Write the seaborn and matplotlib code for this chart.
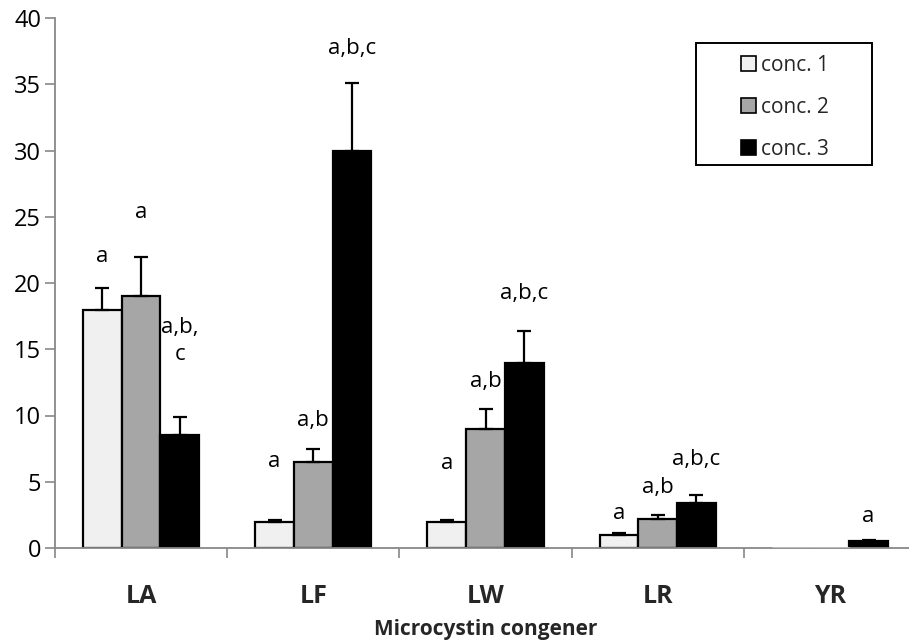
import numpy as np
import pandas as pd
import matplotlib
matplotlib.use("Agg")
import matplotlib.pyplot as plt
from matplotlib.patches import Rectangle
import seaborn as sns

# ---- data ----
congeners = ["LA", "LF", "LW", "LR", "YR"]
series = ["conc. 1", "conc. 2", "conc. 3"]
conc1 = [18.0, 2.0, 2.0, 1.0, 0.0]
conc2 = [19.0, 6.5, 9.0, 2.2, 0.0]
conc3 = [8.5, 30.0, 14.0, 3.4, 0.5]
err1 = [1.6, 0.15, 0.15, 0.1, 0.0]
err2 = [3.0, 1.0, 1.5, 0.3, 0.0]
err3 = [1.4, 5.1, 2.4, 0.6, 0.1]
labels1 = ["a", "a", "a", "a", ""]
labels2 = ["a", "a,b", "a,b", "a,b", ""]
labels3 = ["a,b,\nc", "a,b,c", "a,b,c", "a,b,c", "a"]
yticks = [0, 5, 10, 15, 20, 25, 30, 35, 40]
colors = ["#f0f0f0", "#a6a6a6", "#000000"]

values = [conc1, conc2, conc3]
errors = [err1, err2, err3]
labels = [labels1, labels2, labels3]

df = pd.DataFrame({
    "congener": np.repeat([congeners], 3, axis=0).ravel(),
    "series": np.repeat(series, len(congeners)),
    "value": np.concatenate(values),
})

sns.set_theme(style="white")
plt.rcParams["font.family"] = ["Open Sans", "DejaVu Sans"]

W, H = 909, 642
fig = plt.figure(figsize=(W / 100, H / 100), dpi=100)
ax = fig.add_axes([55 / W, 94 / H, 861 / W, 530 / H])

sns.barplot(data=df, x="congener", y="value", hue="series", order=congeners,
            hue_order=series, palette=colors, width=0.675, gap=0,
            edgecolor="black", linewidth=1.6, ax=ax, errorbar=None,
            saturation=1)

bar_containers = list(ax.containers)

for si, cont in enumerate(bar_containers):
    for ci, patch in enumerate(cont.patches):
        xc = patch.get_x() + patch.get_width() / 2
        h = values[si][ci]
        if h == 0:
            patch.set_edgecolor("#c0c0c0")
            patch.set_linewidth(2.0)
            patch.set_zorder(3)
        e = errors[si][ci]
        if e > 0:
            ax.errorbar([xc], [h], yerr=[[0], [e]], fmt="none", ecolor="black",
                        elinewidth=1.6, capsize=5, capthick=1.6, zorder=3)

# annotation text positions (y centre, data units)
ann_y = [
    [22.0, 6.5, 6.4, 2.6, 0],
    [25.3, 9.6, 12.6, 4.6, 0],
    [15.6, 37.7, 19.2, 6.7, 2.4],
]
for si, cont in enumerate(bar_containers):
    for ci, patch in enumerate(cont.patches):
        t = labels[si][ci]
        if not t:
            continue
        xc = patch.get_x() + patch.get_width() / 2
        ax.text(xc, ann_y[si][ci], t, ha="center", va="center", fontsize=16,
                color="black", linespacing=1.35)

ax.set_ylim(0, 40)
ax.set_xlim(-0.5, 4.5)
ax.set_yticks(yticks)
ax.set_yticklabels([str(v) for v in yticks], fontsize=17)
ax.set_xticks(range(len(congeners)))
ax.set_xticklabels(congeners, fontsize=18, fontweight="bold")
ax.set_xticks(np.arange(-0.5, 4.6, 1.0), minor=True)
ax.tick_params(axis="x", which="major", bottom=True, length=0, pad=26)
ax.tick_params(axis="x", which="minor", bottom=True, length=7, width=1.2, color="#888888", direction="out")
ax.tick_params(axis="y", which="major", left=True, length=7, width=1.2, color="#888888", direction="out", pad=3)
for lab in ax.get_yticklabels():
    lab.set_color("black")

ax.set_xlabel("Microcystin congener", fontsize=15, fontweight="bold", labelpad=7)
ax.set_ylabel("")
for s in ["top", "right"]:
    ax.spines[s].set_visible(False)
for s in ["left", "bottom"]:
    ax.spines[s].set_color("#888888")
    ax.spines[s].set_linewidth(1.3)

# legend content (frame drawn separately to match the wide box)
leg = ax.legend(loc="upper left", bbox_to_anchor=((741 - 55) / 861, (548 - 55) / 530),
                fontsize=15, frameon=False,
                handlelength=0.72, handleheight=0.72, handletextpad=0.22,
                labelspacing=1.0, borderpad=0, borderaxespad=0, title=None)
for h in leg.legend_handles:
    h.set_edgecolor("black")
    h.set_linewidth(1.2)
ax.add_patch(Rectangle(((696 - 55) / 861, (548 - 165) / 530), 176 / 861, 122 / 530,
                       transform=ax.transAxes, fill=False, edgecolor="black",
                       linewidth=1.4, zorder=5))

fig.savefig("out.png", dpi=100)
